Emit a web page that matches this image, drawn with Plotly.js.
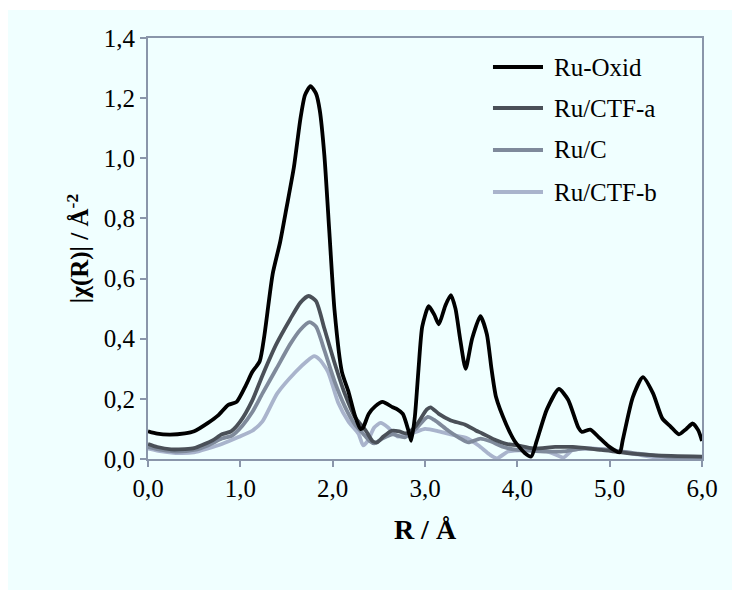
<!DOCTYPE html>
<html>
<head>
<meta charset="utf-8">
<script src="https://cdn.plot.ly/plotly-3.0.1.min.js"></script>
<style>
  html, body { margin: 0; padding: 0; background: #ffffff; }
  #chart { position: absolute; left: 8px; top: 10px; width: 724px; height: 580px; }
</style>
</head>
<body>
<div id="chart"></div>
<script>
// ---- data ----
const seriesNames = ["Ru-Oxid", "Ru/CTF-a", "Ru/C", "Ru/CTF-b"];
const seriesColors = ["#000000", "#4a5058", "#7f8a9b", "#a9b4cc"];

const rOxid = [0.00,0.10,0.24,0.40,0.50,0.65,0.76,0.87,0.96,1.06,1.13,1.21,1.26,1.35,1.43,1.50,1.58,1.65,1.70,1.76,1.82,1.86,1.91,1.965,2.02,2.10,2.17,2.24,2.30,2.33,2.39,2.46,2.54,2.65,2.70,2.76,2.82,2.85,2.89,2.93,2.97,3.04,3.10,3.15,3.22,3.28,3.33,3.38,3.44,3.51,3.60,3.67,3.72,3.77,3.88,3.97,4.08,4.15,4.21,4.32,4.45,4.55,4.66,4.70,4.79,4.88,4.99,5.11,5.14,5.25,5.36,5.47,5.57,5.66,5.75,5.83,5.90,5.96,6.00];
const vOxid = [0.092,0.084,0.081,0.085,0.092,0.120,0.145,0.180,0.190,0.245,0.290,0.325,0.410,0.615,0.720,0.835,0.970,1.130,1.210,1.240,1.215,1.160,1.010,0.750,0.495,0.290,0.225,0.145,0.100,0.105,0.150,0.175,0.190,0.172,0.165,0.150,0.095,0.060,0.140,0.300,0.440,0.508,0.480,0.448,0.510,0.545,0.500,0.400,0.300,0.400,0.475,0.415,0.300,0.205,0.115,0.060,0.020,0.008,0.060,0.165,0.233,0.197,0.105,0.090,0.098,0.073,0.042,0.022,0.060,0.205,0.272,0.218,0.135,0.108,0.082,0.100,0.118,0.095,0.060];

const rCtfA = [0.00,0.10,0.25,0.40,0.50,0.60,0.70,0.80,0.90,1.00,1.13,1.24,1.39,1.54,1.65,1.74,1.82,1.91,2.02,2.13,2.24,2.36,2.43,2.48,2.55,2.64,2.72,2.80,2.90,3.02,3.06,3.15,3.28,3.43,3.55,3.62,3.77,3.88,4.00,4.17,4.41,4.60,4.91,5.24,5.50,6.00];
const vCtfA = [0.050,0.040,0.032,0.033,0.036,0.048,0.062,0.082,0.092,0.125,0.195,0.278,0.382,0.465,0.520,0.542,0.525,0.434,0.320,0.218,0.140,0.094,0.060,0.055,0.075,0.094,0.092,0.085,0.110,0.165,0.172,0.150,0.128,0.115,0.095,0.085,0.062,0.050,0.045,0.035,0.040,0.040,0.030,0.018,0.012,0.008];

const rRuC = [0.00,0.15,0.30,0.50,0.65,0.80,0.91,1.02,1.13,1.24,1.39,1.54,1.65,1.75,1.82,1.91,2.02,2.13,2.24,2.33,2.40,2.45,2.55,2.65,2.78,2.90,3.03,3.10,3.25,3.40,3.47,3.60,3.70,3.85,4.00,4.30,4.50,4.70,5.00,5.30,5.60,6.00];
const vRuC = [0.040,0.030,0.025,0.030,0.045,0.068,0.078,0.110,0.156,0.218,0.300,0.382,0.430,0.455,0.440,0.362,0.259,0.176,0.115,0.084,0.060,0.052,0.070,0.082,0.072,0.100,0.140,0.130,0.095,0.065,0.055,0.068,0.060,0.040,0.030,0.025,0.025,0.035,0.030,0.018,0.008,0.005];

const rCtfB = [0.00,0.15,0.30,0.50,0.65,0.80,0.98,1.13,1.24,1.40,1.60,1.72,1.80,1.86,1.95,2.06,2.17,2.28,2.33,2.38,2.45,2.52,2.60,2.70,2.80,2.90,3.00,3.15,3.30,3.45,3.58,3.70,3.78,3.90,4.10,4.30,4.45,4.50,4.60,4.80,5.00,5.30,5.50,6.00];
const vCtfB = [0.035,0.025,0.020,0.022,0.035,0.050,0.073,0.094,0.125,0.218,0.290,0.325,0.342,0.330,0.290,0.187,0.125,0.084,0.045,0.060,0.105,0.120,0.105,0.075,0.080,0.090,0.100,0.092,0.080,0.070,0.045,0.015,0.002,0.025,0.030,0.028,0.010,0.005,0.030,0.035,0.030,0.015,0.005,0.005];

const xTicks = [0,1,2,3,4,5,6];
const yTicks = [0,0.2,0.4,0.6,0.8,1.0,1.2,1.4];

// ---- traces ----
const xs = [rOxid, rCtfA, rRuC, rCtfB];
const ys = [vOxid, vCtfA, vRuC, vCtfB];
const traces = [];
for (let i = xs.length - 1; i >= 0; i--) {
  traces.push({
    x: xs[i], y: ys[i], name: seriesNames[i], type: 'scatter', mode: 'lines',
    line: {color: seriesColors[i], width: 3.8, shape: 'spline', smoothing: 0.6},
    showlegend: false, hoverinfo: 'skip'
  });
}

// ---- custom legend (lines + labels) ----
const FONT = '"Liberation Serif", "Times New Roman", serif';
const axisColor = '#8a96aa';
const legendY = [0.9311, 0.8337, 0.734, 0.6342];
const shapes = [];
const annotations = [];
seriesNames.forEach((n, i) => {
  shapes.push({type: 'line', xref: 'paper', yref: 'paper', x0: 0.6227, x1: 0.713, y0: legendY[i], y1: legendY[i],
    line: {color: seriesColors[i], width: 3.8}});
  annotations.push({xref: 'paper', yref: 'paper', x: 0.729, y: legendY[i], xanchor: 'left', yanchor: 'middle',
    text: n, showarrow: false, font: {family: FONT, size: 25, color: '#000'}});
});

const layout = {
  width: 724, height: 580,
  paper_bgcolor: '#f0ffff', plot_bgcolor: '#f0ffff',
  margin: {l: 140, r: 30, t: 28, b: 131, pad: 0},
  separators: ', ',
  showlegend: false,
  font: {family: FONT, size: 25, color: '#000'},
  xaxis: {
    range: [0, 6], tickvals: xTicks, tickformat: '.1f',
    showline: true, mirror: true, linecolor: axisColor, linewidth: 2,
    ticks: 'outside', ticklen: 6, tickwidth: 2, tickcolor: axisColor,
    showgrid: false, zeroline: false,
    tickfont: {family: FONT, size: 25, color: '#000'},
    title: {text: '<b>R / Å</b>', font: {family: FONT, size: 28, color: '#000'}, standoff: 18}
  },
  yaxis: {
    range: [0, 1.4], tickvals: yTicks, tickformat: '.1f',
    showline: true, mirror: true, linecolor: axisColor, linewidth: 2,
    ticks: 'outside', ticklen: 6, tickwidth: 2, tickcolor: axisColor,
    showgrid: false, zeroline: false,
    tickfont: {family: FONT, size: 25, color: '#000'},
    title: {text: '<b>|χ(R)| / Å<sup>-2</sup></b>', font: {family: FONT, size: 25, color: '#000'}, standoff: 8}
  },
  shapes: shapes,
  annotations: annotations
};

Plotly.newPlot('chart', traces, layout, {displayModeBar: false, staticPlot: true});
</script>
</body>
</html>
